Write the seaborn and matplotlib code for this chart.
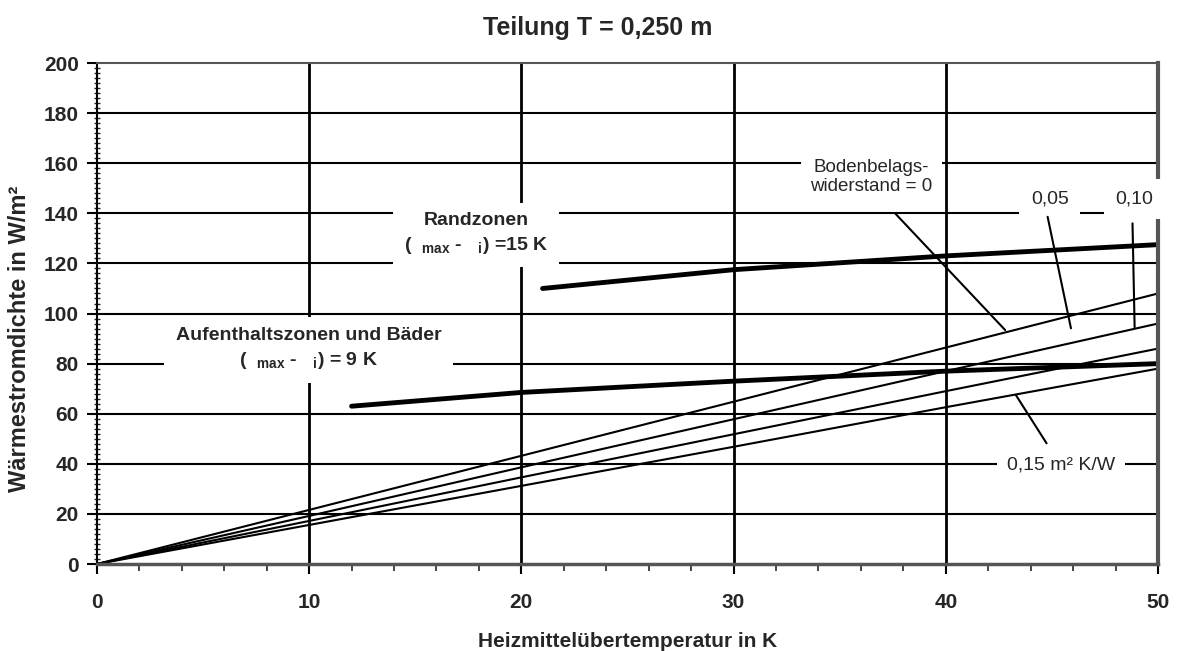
import pandas as pd
import numpy as np
import matplotlib.pyplot as plt
import seaborn as sns

# Werte (Teilung T = 0,250 m)
temp = [0, 10, 20, 30, 40, 50]
r_000 = [0, 21.6, 43.2, 64.8, 86.4, 108]
r_005 = [0, 19.2, 38.6, 57.8, 77.0, 96]
r_010 = [0, 17.2, 34.6, 51.8, 69.0, 86]
r_015 = [0, 15.6, 31.2, 46.8, 62.6, 78]

# Grenzkurven
rand_x = [21, 30, 40, 50]
rand_y = [110, 117.5, 123, 127.5]
aufent_x = [12, 20, 30, 40, 50]
aufent_y = [63, 68.5, 73, 77, 80]

xticks = [0, 10, 20, 30, 40, 50]
yticks = list(range(0, 201, 20))

SANS = ['Liberation Sans', 'DejaVu Sans']

sns.set_style('white')
plt.rcParams['font.family'] = SANS
plt.rcParams['mathtext.fontset'] = 'custom'
plt.rcParams['mathtext.rm'] = 'Liberation Sans:bold'

df = pd.DataFrame({
    'T': temp * 4,
    'q': r_000 + r_005 + r_010 + r_015,
    'R': ['0'] * 6 + ['0,05'] * 6 + ['0,10'] * 6 + ['0,15'] * 6,
})
grenz = pd.DataFrame({
    'T': rand_x + aufent_x,
    'q': rand_y + aufent_y,
    'zone': ['rand'] * len(rand_x) + ['aufent'] * len(aufent_x),
})

fig = plt.figure(figsize=(11.81, 6.51), dpi=100)
ax = fig.add_axes([0.0821, 0.1336, 0.8984, 0.7696])

# Gitter
for y in yticks[1:-1]:
    ax.axhline(y, color='black', lw=1.5, zorder=1)
for x in xticks[1:-1]:
    ax.axvline(x, color='black', lw=2.0, zorder=1)

sns.lineplot(data=df, x='T', y='q', hue='R', palette=['black'] * 4,
             linewidth=1.5, legend=False, ax=ax, zorder=2)
sns.lineplot(data=grenz, x='T', y='q', hue='zone', palette=['black'] * 2,
             linewidth=3.5, legend=False, ax=ax, zorder=2, sort=False)

ax.set_xlim(0, 50)
ax.set_ylim(0, 200)
ax.set_xticks(xticks)
ax.set_yticks(yticks)
ax.set_xticks(np.arange(0, 51, 2), minor=True)
ax.set_yticks(np.arange(0, 201, 2), minor=True)
ax.tick_params(axis='both', which='major', direction='out', length=7, width=1.5,
               color='black', bottom=True, left=True)
ax.tick_params(axis='x', which='minor', direction='out', length=5, width=1.2, bottom=True)
ax.tick_params(axis='y', which='minor', direction='inout', length=5, width=1.0, left=True)
ax.tick_params(axis='x', pad=14)
ax.tick_params(axis='y', pad=6)
for lab in ax.get_xticklabels() + ax.get_yticklabels():
    lab.set_fontweight('bold')
    lab.set_fontsize(15)

ax.spines['left'].set_color('black')
ax.spines['left'].set_linewidth(1.5)
ax.spines['bottom'].set_color('#555555')
ax.spines['bottom'].set_linewidth(2.5)
ax.spines['right'].set_color('#555555')
ax.spines['right'].set_linewidth(3)
ax.spines['top'].set_color('#555555')
ax.spines['top'].set_linewidth(1.5)

ax.set_xlabel('Heizmittelübertemperatur in K', fontweight='bold', fontsize=15)
ax.xaxis.set_label_coords(0.5, -0.135)
ax.set_ylabel('Wärmestromdichte in W/m²', fontweight='bold', fontsize=17)
ax.yaxis.set_label_coords(-0.062, 0.45)
fig.text(0.506, 0.957, 'Teilung T = 0,250 m', ha='center', va='center',
         fontweight='bold', fontsize=18)


def wbox(pad):
    return dict(boxstyle='square,pad=%s' % pad, facecolor='white', edgecolor='none')


ax.text(17.86, 131.7, 'Randzonen\n(  $_{\\rm max}$ -   $_{\\rm i}$) =15 K', ha='center', va='center',
        fontsize=14, fontweight='bold', linespacing=1.45, bbox=wbox(0.55), zorder=3)
ax.text(9.97, 85.8, 'Aufenthaltszonen und Bäder\n(  $_{\\rm max}$ -   $_{\\rm i}$) = 9 K',
        ha='center', va='center', fontsize=14, fontweight='bold', linespacing=1.45,
        bbox=wbox(0.6), zorder=3)
ax.text(36.5, 154.5, 'Bodenbelags-\nwiderstand = 0', ha='center', va='center',
        fontsize=13.5, linespacing=1.2, bbox=wbox(0.5), zorder=3)
ax.text(44.9, 145.7, '0,05', ha='center', va='center', fontsize=14,
        bbox=wbox(0.6), zorder=3)
ax.text(48.9, 145.7, '0,10', ha='center', va='center', fontsize=14,
        bbox=wbox(0.6), zorder=3, clip_on=False)
ax.text(45.43, 39.5, '0,15 m² K/W', ha='center', va='center', fontsize=14,
        bbox=wbox(0.5), zorder=3)

# Bezugslinien
leader = dict(arrowstyle='-', color='black', lw=1.5, shrinkA=0, shrinkB=0)
ax.annotate('', xy=(42.8, 93.4), xytext=(37.6, 140.1), arrowprops=leader)
ax.annotate('', xy=(45.9, 94.1), xytext=(44.8, 138.6), arrowprops=leader)
ax.annotate('', xy=(48.9, 94.5), xytext=(48.8, 136.0), arrowprops=leader)
ax.annotate('', xy=(44.75, 48.2), xytext=(43.3, 67.5), arrowprops=leader)

fig.savefig('out.png', dpi=100)
